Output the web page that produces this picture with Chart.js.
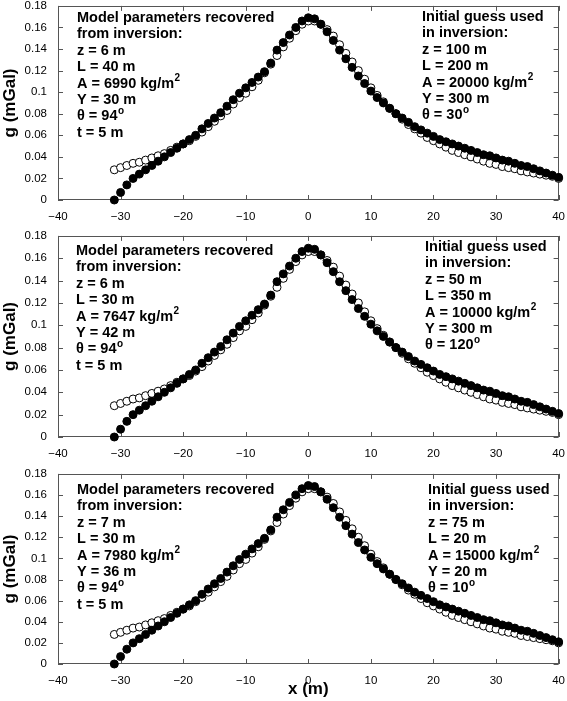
<!DOCTYPE html>
<html>
<head>
<meta charset="utf-8">
<script src="https://cdn.jsdelivr.net/npm/chart.js@4.4.1/dist/chart.umd.min.js"></script>
<style>
    html, body { margin: 0; padding: 0; background: #fff; }
    #wrap { position: relative; width: 567px; height: 701px; overflow: hidden; }
    #wrap canvas { position: absolute; left: 0; }
</style>
</head>
<body>
<div id="wrap">
    <canvas id="panel1" width="567" height="224" style="top:-4px"></canvas>
    <canvas id="panel2" width="567" height="231" style="top:226px"></canvas>
    <canvas id="panel3" width="567" height="237" style="top:464px"></canvas>
</div>
<script>
// distanza lungo il profilo (m)
const xValues = [
    -31, -30, -29, -28, -27, -26, -25, -24, -23, -22, -21, -20, -19, -18, -17, -16, -15, -14,
    -13, -12, -11, -10, -9, -8, -7, -6, -5, -4, -3, -2, -1, 0, 1, 2, 3, 4,
    5, 6, 7, 8, 9, 10, 11, 12, 13, 14, 15, 16, 17, 18, 19, 20, 21, 22,
    23, 24, 25, 26, 27, 28, 29, 30, 31, 32, 33, 34, 35, 36, 37, 38, 39, 40
];

// anomalia osservata (cerchi vuoti), mGal
const observed = [
    0.028, 0.030, 0.032, 0.034, 0.035, 0.037, 0.039, 0.041, 0.043, 0.046, 0.049, 0.052, 0.055, 0.059, 0.063, 0.068, 0.073, 0.078,
    0.083, 0.089, 0.095, 0.099, 0.105, 0.111, 0.118, 0.126, 0.134, 0.142, 0.150, 0.157, 0.163, 0.166, 0.166, 0.163, 0.158, 0.152,
    0.144, 0.136, 0.128, 0.120, 0.112, 0.104, 0.097, 0.091, 0.085, 0.080, 0.075, 0.070, 0.066, 0.062, 0.058, 0.055, 0.052, 0.049,
    0.046, 0.044, 0.042, 0.040, 0.038, 0.036, 0.034, 0.033, 0.031, 0.030, 0.029, 0.027, 0.026, 0.025, 0.024, 0.023, 0.022, 0.020
];

// anomalia calcolata (cerchi pieni), una serie per pannello
const calculated1 = [
    0.000, 0.007, 0.014, 0.020, 0.024, 0.028, 0.032, 0.036, 0.040, 0.044, 0.048, 0.052, 0.056, 0.060, 0.066, 0.071, 0.076, 0.081,
    0.087, 0.093, 0.099, 0.104, 0.109, 0.114, 0.119, 0.127, 0.139, 0.146, 0.153, 0.160, 0.166, 0.169, 0.168, 0.163, 0.156, 0.148,
    0.139, 0.131, 0.123, 0.115, 0.108, 0.101, 0.095, 0.090, 0.085, 0.080, 0.076, 0.072, 0.068, 0.065, 0.062, 0.059, 0.056, 0.054,
    0.052, 0.050, 0.048, 0.046, 0.044, 0.042, 0.041, 0.039, 0.037, 0.036, 0.034, 0.032, 0.031, 0.029, 0.027, 0.025, 0.023, 0.021
];
const calculated2 = [
    0.000, 0.007, 0.014, 0.020, 0.024, 0.028, 0.032, 0.036, 0.040, 0.044, 0.048, 0.052, 0.056, 0.060, 0.066, 0.071, 0.076, 0.081,
    0.087, 0.093, 0.099, 0.104, 0.109, 0.114, 0.119, 0.127, 0.139, 0.146, 0.153, 0.160, 0.166, 0.169, 0.168, 0.163, 0.156, 0.148,
    0.139, 0.131, 0.123, 0.115, 0.108, 0.101, 0.095, 0.090, 0.085, 0.080, 0.076, 0.072, 0.068, 0.065, 0.062, 0.059, 0.056, 0.054,
    0.052, 0.050, 0.048, 0.046, 0.044, 0.042, 0.041, 0.039, 0.037, 0.036, 0.034, 0.032, 0.031, 0.029, 0.027, 0.025, 0.023, 0.021
];
const calculated3 = [
    0.000, 0.007, 0.014, 0.020, 0.024, 0.028, 0.032, 0.036, 0.040, 0.044, 0.048, 0.052, 0.056, 0.060, 0.066, 0.071, 0.076, 0.081,
    0.087, 0.093, 0.099, 0.104, 0.109, 0.114, 0.119, 0.127, 0.139, 0.146, 0.153, 0.160, 0.166, 0.169, 0.168, 0.163, 0.156, 0.148,
    0.139, 0.131, 0.123, 0.115, 0.108, 0.101, 0.095, 0.090, 0.085, 0.080, 0.076, 0.072, 0.068, 0.065, 0.062, 0.059, 0.056, 0.054,
    0.052, 0.050, 0.048, 0.046, 0.044, 0.042, 0.041, 0.039, 0.037, 0.036, 0.034, 0.032, 0.031, 0.029, 0.027, 0.025, 0.023, 0.021
];

// testi dei riquadri ('^' = apice)
const recovered1 = ["Model parameters recovered", "from inversion:", "z = 6 m", "L = 40 m", "A = 6990 kg/m^2", "Y = 30 m", "\u03b8 = 94^o", "t = 5 m"];
const recovered2 = ["Model parameters recovered", "from inversion:", "z = 6 m", "L = 30 m", "A = 7647 kg/m^2", "Y = 42 m", "\u03b8 = 94^o", "t = 5 m"];
const recovered3 = ["Model parameters recovered", "from inversion:", "z = 7 m", "L = 30 m", "A = 7980 kg/m^2", "Y = 36 m", "\u03b8 = 94^o", "t = 5 m"];
const guess1 = ["Initial guess used", "in inversion:", "z = 100 m", "L = 200 m", "A = 20000 kg/m^2", "Y = 300 m", "\u03b8 = 30^o"];
const guess2 = ["Initial guess used", "in inversion:", "z = 50 m", "L = 350 m", "A = 10000 kg/m^2", "Y = 300 m", "\u03b8 = 120^o"];
const guess3 = ["Initial guess used", "in inversion:", "z = 75 m", "L = 20 m", "A = 15000 kg/m^2", "Y = 20 m", "\u03b8 = 10^o"];

const FONT = '"Liberation Sans", Arial, Helvetica, sans-serif';
Chart.defaults.font.family = FONT;
Chart.defaults.color = '#000';

// cornice e tacche verso l'interno, come nelle figure di Matlab
const frameTicks = {
    id: 'frameTicks',
    beforeDatasetsDraw(chart) {
        const { ctx, chartArea: a, scales: { x, y } } = chart;
        ctx.save();
        ctx.strokeStyle = '#555';
        ctx.lineWidth = 1;
        ctx.beginPath();
        x.ticks.forEach(t => {
            const px = Math.round(x.getPixelForValue(t.value)) + 0.5;
            ctx.moveTo(px, a.top); ctx.lineTo(px, a.top + 5);
            ctx.moveTo(px, a.bottom); ctx.lineTo(px, a.bottom - 5);
        });
        y.ticks.forEach(t => {
            const py = Math.round(y.getPixelForValue(t.value)) + 0.5;
            ctx.moveTo(a.left, py); ctx.lineTo(a.left + 5, py);
            ctx.moveTo(a.right, py); ctx.lineTo(a.right - 5, py);
        });
        ctx.stroke();
        ctx.strokeRect(Math.round(a.left) + 0.5, Math.round(a.top) + 0.5,
            Math.round(a.width) - 1, Math.round(a.height) - 1);
        ctx.restore();
    }
};

function drawLine(ctx, text, x, y) {
    const parts = text.split('^');
    ctx.font = 'bold 14.5px ' + FONT;
    ctx.fillText(parts[0], x, y);
    if (parts[1]) {
        const w = ctx.measureText(parts[0]).width;
        ctx.font = 'bold 10px ' + FONT;
        ctx.fillText(parts[1], x + w + 0.5, y - 5);
    }
}

// blocchi di testo con i parametri
const paramText = {
    id: 'paramText',
    afterDatasetsDraw(chart, args, opts) {
        const { ctx, chartArea: a } = chart;
        ctx.save();
        ctx.fillStyle = '#000';
        ctx.textBaseline = 'middle';
        opts.blocks.forEach(b => {
            b.lines.forEach((line, i) => drawLine(ctx, line, b.x, a.top + b.dy + i * 16.4));
        });
        ctx.restore();
    }
};

function makePanel(id, calc, blocks, xAxisHeight, showXTitle) {
    const ctx = document.getElementById(id).getContext('2d');
    return new Chart(ctx, {
        type: 'scatter',
        data: {
            datasets: [{
                label: 'calcolata',
                data: xValues.map((v, i) => ({ x: v, y: calc[i] })),
                pointRadius: 4,
                pointBackgroundColor: '#000',
                pointBorderColor: '#000',
                pointBorderWidth: 1,
                showLine: false,
                clip: false
            }, {
                label: 'osservata',
                data: xValues.map((v, i) => ({ x: v, y: observed[i] })),
                pointRadius: 4,
                pointBackgroundColor: '#fff',
                pointBorderColor: '#000',
                pointBorderWidth: 1,
                showLine: false,
                clip: false
            }]
        },
        options: {
            responsive: false,
            animation: false,
            layout: { padding: { top: 8, right: 7, bottom: 0, left: 0 } },
            scales: {
                x: {
                    type: 'linear',
                    min: -40,
                    max: 40,
                    grid: { display: false },
                    border: { display: false },
                    ticks: {
                        stepSize: 10,
                        padding: 2,
                        font: { size: 11.5 },
                        maxRotation: 0,
                        callback: v => String(v).replace('-', '\u2212')
                    },
                    title: {
                        display: showXTitle,
                        text: 'x (m)',
                        font: { size: 17, weight: 'bold' },
                        padding: { top: 0, bottom: 1 }
                    },
                    afterFit(scale) { scale.height = xAxisHeight; }
                },
                y: {
                    min: 0,
                    max: 0.18,
                    grid: { display: false },
                    border: { display: false },
                    ticks: {
                        stepSize: 0.02,
                        padding: 3,
                        font: { size: 11.5 },
                        callback: v => String(Math.round(v * 100) / 100)
                    },
                    title: {
                        display: true,
                        text: 'g (mGal)',
                        font: { size: 17, weight: 'bold' },
                        padding: { top: 0, bottom: 0 }
                    },
                    afterFit(scale) { scale.width = 58; }
                }
            },
            plugins: {
                legend: { display: false },
                tooltip: { enabled: false },
                paramText: { blocks: blocks }
            }
        },
        plugins: [frameTicks, paramText]
    });
}

makePanel('panel1', calculated1, [
    { lines: recovered1, x: 77, dy: 12 },
    { lines: guess1, x: 422, dy: 11 }
], 20, false);
makePanel('panel2', calculated2, [
    { lines: recovered2, x: 76, dy: 15 },
    { lines: guess2, x: 425, dy: 11 }
], 20, false);
makePanel('panel3', calculated3, [
    { lines: recovered3, x: 77, dy: 16 },
    { lines: guess3, x: 428, dy: 16 }
], 37, true);
</script>
</body>
</html>
